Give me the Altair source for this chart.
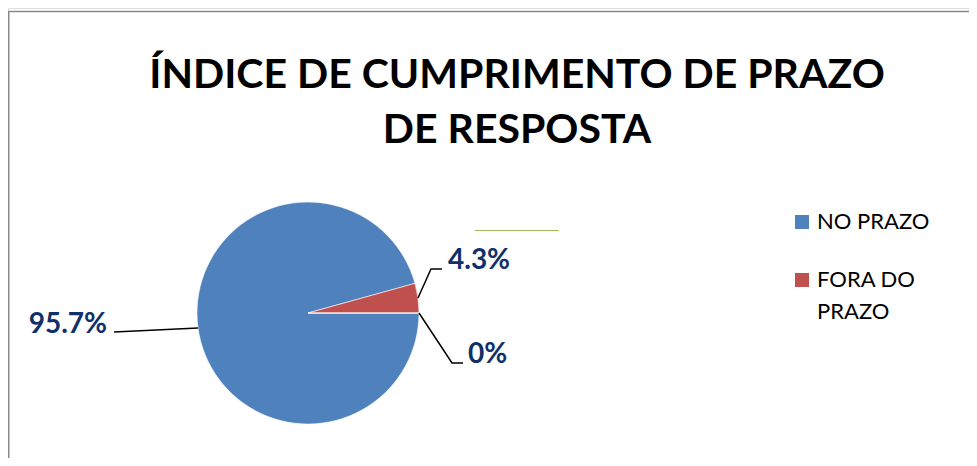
import altair as alt
import pandas as pd
import numpy as np

# ---- data ----
categories = ["NO PRAZO", "FORA DO PRAZO", ""]
values = [95.7, 4.3, 0.0]
labels = ["95.7%", "4.3%", "0%"]
legend_labels = ["NO PRAZO", "FORA DO\nPRAZO"]
colors = ["#4F81BD", "#C0504D", "#9BBB59"]
title_lines = ["ÍNDICE DE CUMPRIMENTO DE PRAZO", "DE RESPOSTA"]

# ---- layout / style constants (plot px) ----
W, H = 961, 450
CX, CY, R = 300, 305, 111
FONT = "Lato"
LABEL_COLOR = "#10306A"
leader_offsets = [[(0, 0), (-84, 4)], [(0, 0), (13, -29), (24, -29)], [(0, 0), (33, 50), (44, 50)]]
text_offsets = [(-91, 5), (30, -29), (49, 50)]

# ---- derived tables ----
df = pd.DataFrame({"category": categories, "value": values, "label": labels,
                   "order": list(range(len(values)))})
vals = np.array(values)
mid = np.pi / 2 + 2 * np.pi * (np.cumsum(vals) - vals / 2) / vals.sum()
ex = CX + R * np.sin(mid)
ey = CY - R * np.cos(mid)

line_rows = []
for i, pts in enumerate(leader_offsets):
    for j, (dx, dy) in enumerate(pts):
        line_rows.append({"category": categories[i] or "zero", "pt": j,
                          "x": ex[i] + dx, "y": ey[i] + dy})
lines_df = pd.DataFrame(line_rows)

lab_df = pd.DataFrame({
    "label": labels,
    "x": [ex[i] + text_offsets[i][0] for i in range(len(labels))],
    "y": [ey[i] + text_offsets[i][1] for i in range(len(labels))],
    "side": ["left" if np.sin(m) < 0 else "right" for m in mid],
})

leg_df = pd.DataFrame({
    "category": categories[:2],
    "text": legend_labels,
    "i": [0, 1],
})
leg_df["sy"] = 214 + leg_df["i"] * 58
leg_df["ty"] = 221 + leg_df["i"] * 58

title_df = pd.DataFrame({"text": title_lines, "i": [0, 1]})
title_df["y"] = 79.5 + title_df["i"] * 55.5

color_scale = alt.Scale(domain=categories, range=colors)

# ---- border ----
border_left = alt.Chart(pd.DataFrame({"a": [0]})).mark_rule(
    color="#8A8A8A", strokeWidth=1.5).encode(
    x=alt.value(0.75), y=alt.value(3.5), y2=alt.value(H))
border_top = alt.Chart(pd.DataFrame({"a": [0]})).mark_rule(
    color="#8A8A8A", strokeWidth=1.5).encode(
    x=alt.value(0), x2=alt.value(W), y=alt.value(3.5))

# stray green leader (series 3 colour)
green = alt.Chart(pd.DataFrame({"a": [0]})).mark_rule(
    color="#9BBB59", strokeWidth=1).encode(
    x=alt.value(467), x2=alt.value(551), y=alt.value(222.5))

# ---- title ----
title = alt.Chart(title_df).mark_text(
    font=FONT, fontWeight="bold", fontSize=41, color="#000000",
    align="center", baseline="alphabetic").encode(
    x=alt.value(509), y=alt.Y("y:Q", scale=None), text="text:N")

# ---- pie ----
pie = alt.Chart(df).mark_arc(radius=R, stroke="#FFFFFF", strokeWidth=0.6).encode(
    theta=alt.Theta("value:Q", stack=True,
                    scale=alt.Scale(range=[np.pi / 2, np.pi / 2 + 2 * np.pi])),
    color=alt.Color("category:N", scale=color_scale, legend=None),
    order=alt.Order("order:Q"),
    x=alt.value(CX), y=alt.value(CY),
)

leaders = alt.Chart(lines_df).mark_line(color="#000000", strokeWidth=1.5).encode(
    x=alt.X("x:Q", scale=None), y=alt.Y("y:Q", scale=None),
    detail="category:N", order="pt:Q")

lab_base = alt.Chart(lab_df)
labels_left = lab_base.transform_filter(alt.datum.side == "left").mark_text(
    font=FONT, fontWeight="bold", fontSize=28, color=LABEL_COLOR,
    align="right", baseline="alphabetic").encode(
    x=alt.X("x:Q", scale=None), y=alt.Y("y:Q", scale=None), text="label:N")
labels_right = lab_base.transform_filter(alt.datum.side == "right").mark_text(
    font=FONT, fontWeight="bold", fontSize=28, color=LABEL_COLOR,
    align="left", baseline="alphabetic").encode(
    x=alt.X("x:Q", scale=None), y=alt.Y("y:Q", scale=None), text="label:N")

# ---- legend ----
leg_sq = alt.Chart(leg_df).mark_square(size=196, opacity=1).encode(
    x=alt.value(794), y=alt.Y("sy:Q", scale=None),
    color=alt.Color("category:N", scale=color_scale, legend=None))
leg_tx = alt.Chart(leg_df).mark_text(
    font=FONT, fontSize=22, color="#000000", align="left",
    baseline="alphabetic", lineBreak="\n", lineHeight=32).encode(
    x=alt.value(809), y=alt.Y("ty:Q", scale=None), text="text:N")

chart = alt.layer(
    border_left, border_top, green, title, pie, leaders,
    labels_left, labels_right, leg_sq, leg_tx
).properties(
    width=W, height=H, padding=0, autosize="none"
).configure_view(stroke=None).configure(background="#FFFFFF")

chart.save("out.html", embed_options={"renderer": "svg", "actions": False})
